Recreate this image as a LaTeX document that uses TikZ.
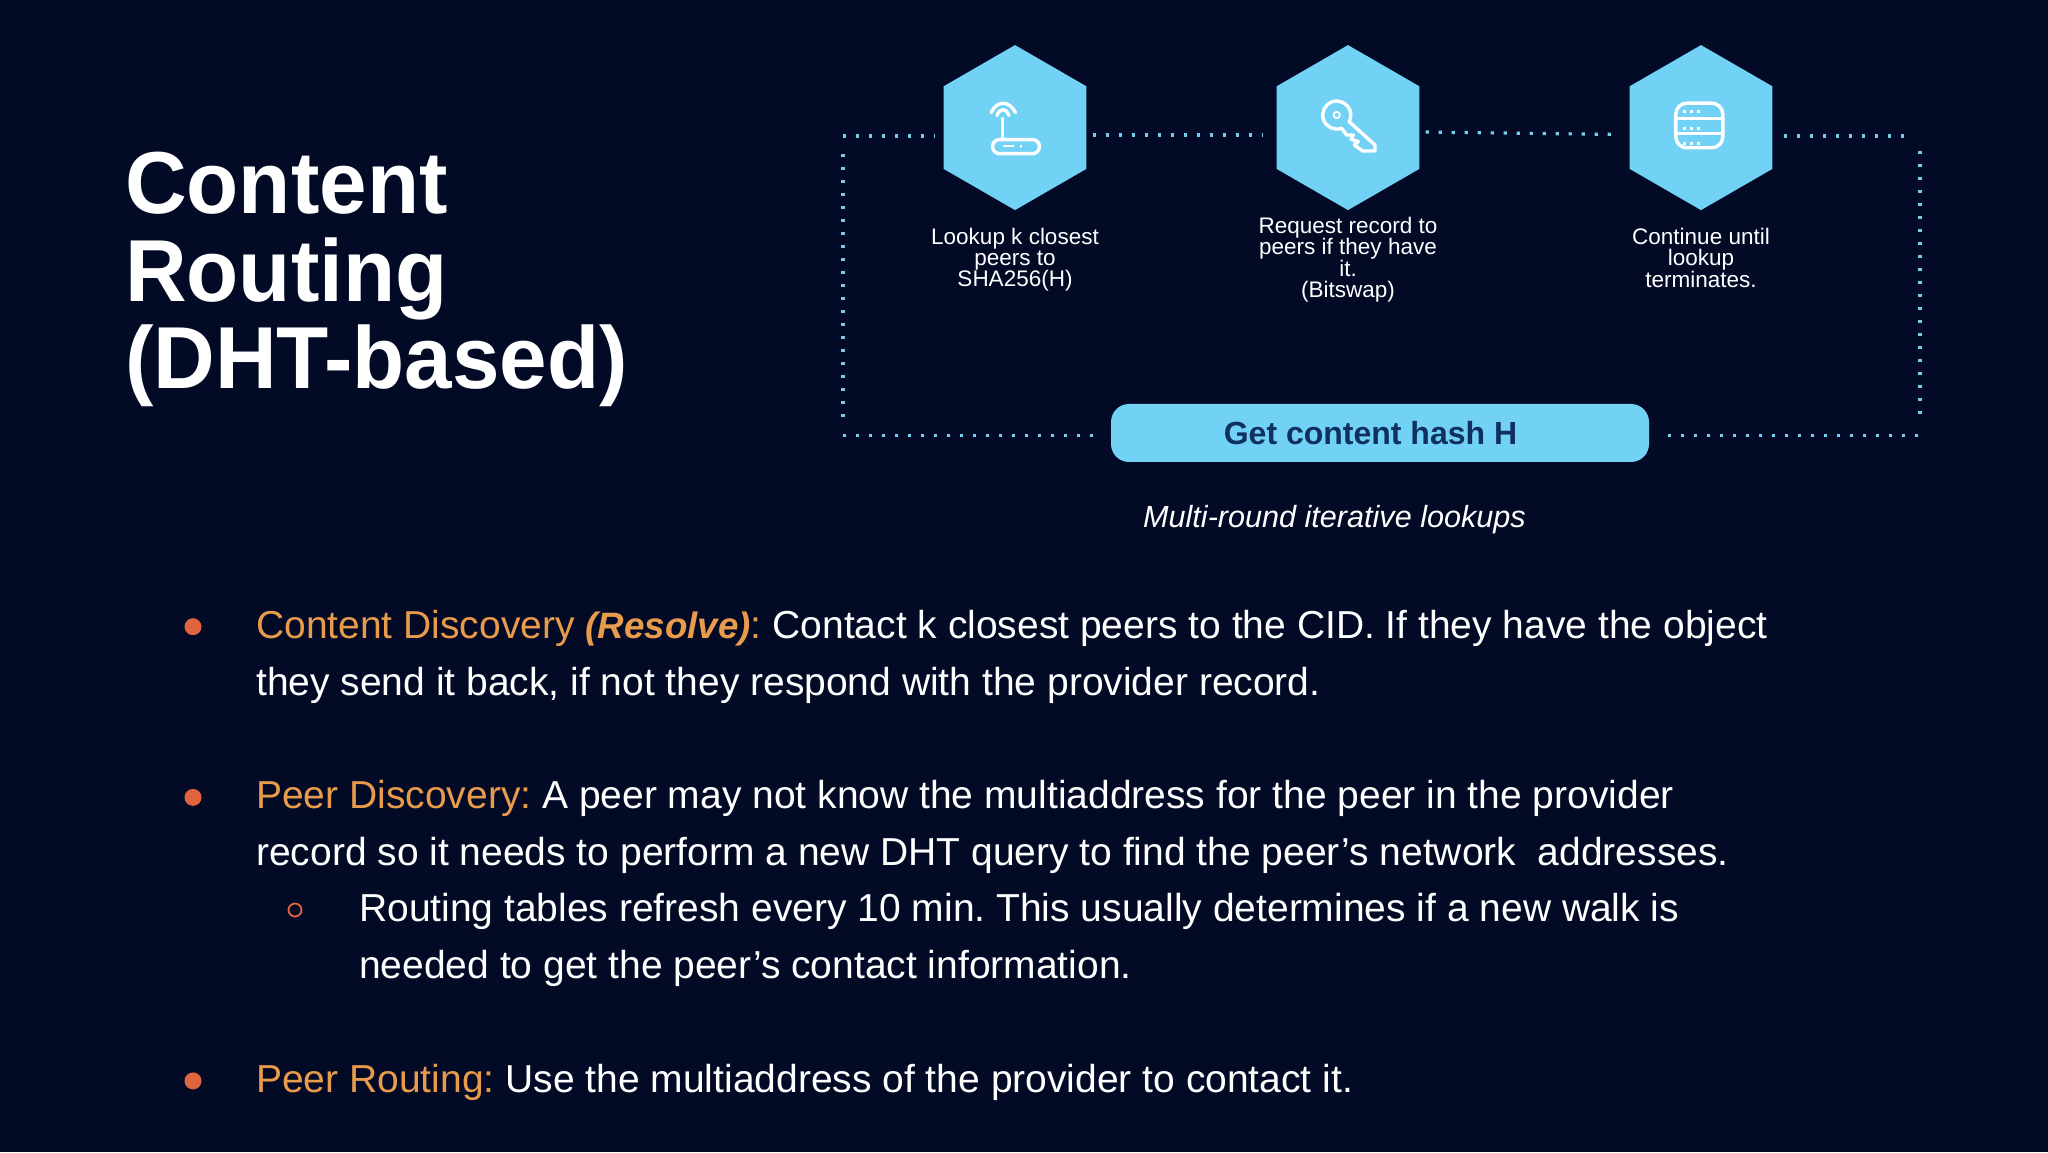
\documentclass[tikz,border=0pt]{standalone}
\usepackage{fontspec}
\setmainfont{Liberation Sans}
\newfontfamily\titlefont[FakeStretch=0.97]{Liberation Sans}
\newfontfamily\bodyfont{Liberation Sans}
\usetikzlibrary{shapes.geometric,positioning}

\definecolor{pagebg}{HTML}{020A26}
\definecolor{sky}{HTML}{72D2F6}
\definecolor{dotcol}{HTML}{75CDE8}
\definecolor{ink}{HTML}{10305F}
\definecolor{lead}{HTML}{E89B4A}
\definecolor{mark}{HTML}{E0653F}

\newcommand{\lead}[1]{\textcolor{lead}{#1}}

\tikzset{
	hexnode/.style={regular polygon, regular polygon sides=6, shape border rotate=30, minimum size=165pt, inner sep=0pt, fill=sky},
	hexcap/.style={text=white, align=center, inner sep=0pt, font=\fontsize{22.5}{21.4}\selectfont},
	hashbox/.style={fill=sky, rounded corners=18pt, minimum width=538pt, minimum height=58pt, inner sep=0pt, text=ink, font=\fontsize{32}{36}\selectfont\bfseries},
	dotline/.style={draw=dotcol, line width=3.2pt, dash pattern=on 3.2pt off 9.8pt},
	icon/.style={draw=white, line width=3.4pt, line cap=round, line join=round},
	bodytext/.style={text=white, align=left, anchor=base west, inner sep=0pt, font=\bodyfont\fontsize{39}{56.6}\selectfont\frenchspacing},
	bulletdot/.style={circle, fill=mark, minimum size=17pt, inner sep=0pt},
	bulletring/.style={circle, draw=mark, line width=1.8pt, minimum size=13pt, inner sep=0pt}
}

\begin{document}
\begin{tikzpicture}[x=1pt,y=1pt]
	\fill[pagebg] (0,0) rectangle (2048,1152);
	\useasboundingbox (0,0) rectangle (2048,1152);

	\node[text=white, align=left, anchor=base west, inner sep=0pt, font=\titlefont\bfseries\fontsize{88}{87.2}\selectfont] (title) at (125,763.7) {Content\\Routing\\(DHT-based)};

	% hexagons
	\node[hexnode] (hexa) at (1015,1024.4) {};
	\node[hexnode, right of=hexa, node distance=333pt] (hexb) {};
	\node[hexnode, right of=hexb, node distance=353pt] (hexc) {};

	\node[hexcap, below of=hexa, node distance=132pt] (capa) {Lookup k closest\\peers to\\SHA256(H)};
	\node[hexcap, below of=hexb, node distance=132pt] (capb) {Request record to\\peers if they have\\it.\\(Bitswap)};
	\node[hexcap, below of=hexc, node distance=130pt] (capc) {Continue until\\lookup\\terminates.};

	\node[hashbox] (gethash) at (1380,719) {Get content hash H\kern19pt};
	\node[text=white, inner sep=0pt, anchor=base, font=\fontsize{30.6}{36}\selectfont\itshape] (rounds) at (1334.5,624.3) {Multi-round iterative lookups};

	% loop corners
	\coordinate (cnw) at (843,1016);
	\coordinate (cne) at (1920,1016);
	\coordinate (csw) at (843,716.3);
	\coordinate (cse) at (1920,716.3);

	\draw[dotline, shorten >=8pt] (cnw) -- ([yshift=-8.4pt]hexa.west);
	\draw[dotline, shorten <=6pt, shorten >=14pt] ([yshift=-7.5pt]hexa.east) -- ([yshift=-7.5pt]hexb.west);
	\draw[dotline, shorten <=6pt, shorten >=10pt] ([yshift=-4.4pt]hexb.east) -- ([yshift=-7pt]hexc.west);
	\draw[dotline, shorten <=11.5pt, shorten >=8pt] ([yshift=-8.4pt]hexc.east) -- (cne);
	\draw[dotline, shorten <=15pt, shorten >=15pt] (cne) -- (cse);
	\draw[dotline, shorten <=19pt] (gethash.east |- cse) -- (cse);
	\draw[dotline, shorten >=16pt] (csw) -- (gethash.west |- csw);
	\draw[dotline, shorten <=18pt, shorten >=12pt] (cnw) -- (csw);

	% router icon
	\begin{scope}[shift={(hexa.center)}]
		\draw[icon, rounded corners=7pt] (-22.5,-26) rectangle (24.5,-12);
		\draw[icon] (-12.3,9.3) -- (-12.3,-12);
		\draw[icon] (-24,15) .. controls (-18,27.5) and (-6,27.5) .. (0.5,15);
		\draw[icon] (-18,12) .. controls (-15,20) and (-9,20) .. (-6,12);
		\draw[icon, line width=2.4pt] (-11,-18.7) -- (-1.5,-18.7);
		\draw[icon, line width=2pt] (5.7,-18) -- (5.7,-19.4);
	\end{scope}

	% key icon
	\begin{scope}[shift={(hexb.center)}]
		\draw[icon] (-6.5,-0.6) arc[start angle=-70, end angle=-388, radius=14pt] -- (27,-17.4) -- (27,-23.4) -- (14.7,-23.4) -- (6.3,-17.4) -- (10.3,-14) -- (3,-11.7) -- (5.3,-7.4) -- (-1.3,-7.4) -- cycle;
		\draw[icon, line width=1.8pt] (-11.3,12.6) circle[radius=3.2pt];
	\end{scope}

	% server icon
	\begin{scope}[shift={(hexc.center)}]
		\draw[icon, rounded corners=11pt] (-25.2,-20.2) rectangle (21.8,24.4);
		\draw[icon] (-25.2,9.3) -- (21.8,9.3);
		\draw[icon] (-25.2,-5.7) -- (21.8,-5.7);
		\foreach \dy in {15.9,-0.7,-15.7} {
			\foreach \dx in {-16.7,-10,-2.7} {
				\fill[white] (\dx-1.5,\dy-1.7) rectangle (\dx+1.5,\dy+1.7);
			}
		}
	\end{scope}

	% bullets
	\node[bulletdot] (dota) at (193,525.3) {};
	\node[bulletdot, below of=dota, node distance=170.7pt] (dotb) {};
	\node[bulletring] (ringb) at (295,242) {};
	\node[bulletdot, below of=dotb, node distance=283.5pt] (dotc) {};

	\node[bodytext] (texta) at (256,456.7) {\lead{Content Discovery {\fontsize{36.7}{56.6}\selectfont\textbf{\textit{(Resolve)}}}:} Contact k closest peers to the CID. If they have the object\\they send it back, if not they respond with the provider record.};
	\node[bodytext] (textb) at (256,287) {\lead{Peer Discovery:} A peer may not know the multiaddress for the peer in the provider\\record so it needs to perform a new DHT query to find the peer’s network\ \ addresses.};
	\node[bodytext] (textc) at (359,173.7) {Routing tables refresh every 10 min. This usually determines if a new walk is\\needed to get the peer’s contact information.};
	\node[bodytext] (textd) at (256,60) {\lead{Peer Routing:} Use the multiaddress of the provider to contact it.};
\end{tikzpicture}
\end{document}
